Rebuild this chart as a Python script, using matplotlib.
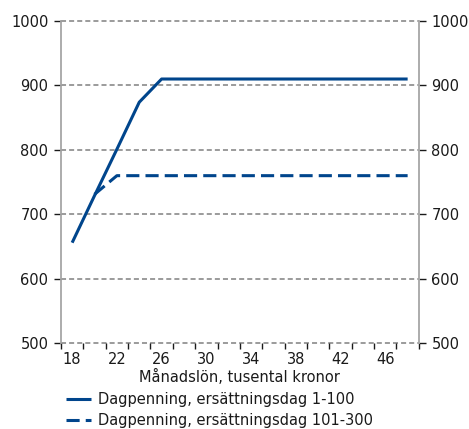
import matplotlib
matplotlib.use('Agg')
import matplotlib.pyplot as plt
import numpy as np

# Månadslön (tusental kronor) and dagpenning
salary = [18, 20, 22, 24, 26, 28, 30, 32, 34, 36, 38, 40, 42, 44, 46, 48]
day_1_100 = [656, 729, 801, 874, 910, 910, 910, 910, 910, 910, 910, 910, 910, 910, 910, 910]
day_101_300 = [None, 731, 760, 760, 760, 760, 760, 760, 760, 760, 760, 760, 760, 760, 760, 760]
labels = ['Dagpenning, ersättningsdag 1-100', 'Dagpenning, ersättningsdag 101-300']

BLUE = '#00458C'
GREY = '#808080'

plt.rcParams['font.family'] = ['DejaVu Sans']
plt.rcParams['font.size'] = 10.5

fig = plt.figure(figsize=(4.69, 4.29), dpi=100)
ax = fig.add_axes([0.130, 0.200, 0.763, 0.751])

x = np.arange(len(salary))
y2 = np.array([np.nan if v is None else v for v in day_101_300], dtype=float)
l1, = ax.plot(x, day_1_100, color=BLUE, lw=2.2, solid_capstyle='butt', zorder=3)
l2, = ax.plot(x, y2, color=BLUE, lw=2.2, linestyle=(0, (4.3, 2.0)),
              dash_capstyle='butt', zorder=3)

ax.set_xlim(-0.5, len(salary) - 0.5)
ax.set_ylim(500, 1000)
ax.set_yticks(np.arange(500, 1001, 100))

# horizontal dashed grid
for yv in np.arange(500, 1001, 100):
    ax.axhline(yv, color=GREY, lw=1.1, linestyle=(0, (3.3, 2.0)), zorder=1,
               clip_on=False)

ax.set_xticks(x[::2])
ax.set_xticklabels([str(s) for s in salary[::2]])
ax.set_xticks(np.arange(-0.5, len(salary) - 0.4, 1.0), minor=True)
ax.tick_params(axis='x', which='major', length=0, pad=6, colors='#1a1a1a')
ax.tick_params(axis='x', which='minor', length=4, width=1, color='#1a1a1a')
ax.tick_params(axis='y', length=5, width=1, color='#1a1a1a', pad=4,
               right=True, labelright=True, labelcolor='#1a1a1a')

for s in ['top', 'bottom']:
    ax.spines[s].set_visible(False)
for s in ['left', 'right']:
    ax.spines[s].set_color('#a6a6a6')
    ax.spines[s].set_linewidth(1.3)

ax.set_xlabel('Månadslön, tusental kronor', labelpad=1.5, color='#1a1a1a')

fig.legend([l1, l2], labels, loc='upper left', bbox_to_anchor=(0.140, 0.086),
           frameon=False, handlelength=1.75, handletextpad=0.45,
           labelspacing=0.4, borderpad=0, borderaxespad=0, labelcolor='#1a1a1a')

fig.savefig('out.png', dpi=100)
